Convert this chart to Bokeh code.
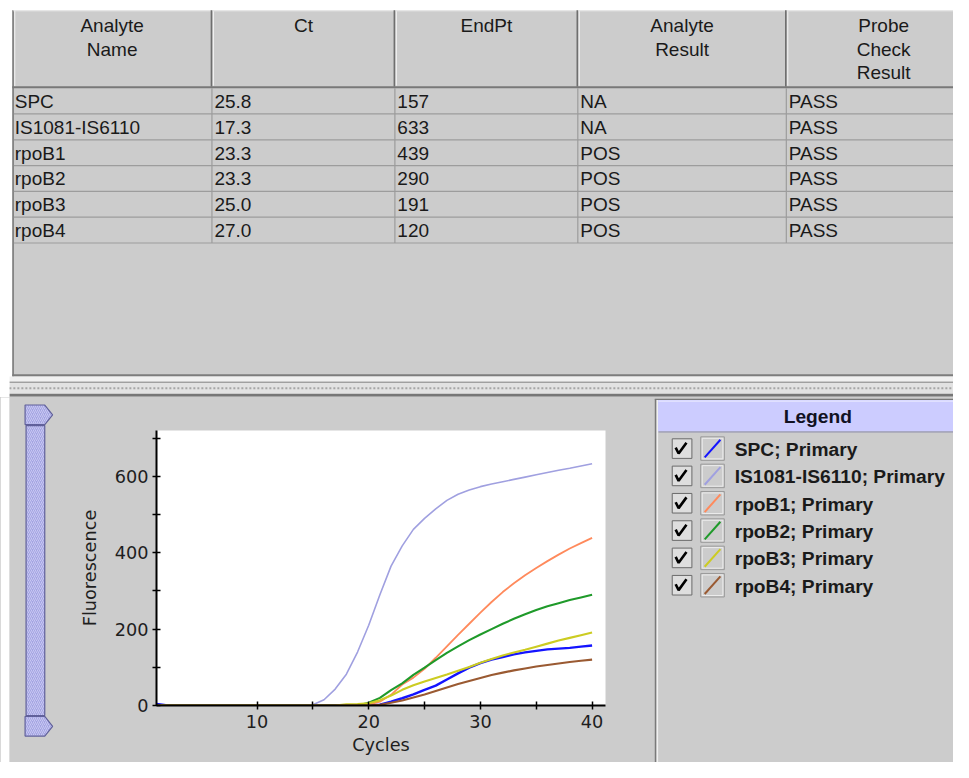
from bokeh.plotting import figure
from bokeh.models import Range1d, FixedTicker
from bokeh.layouts import column, row
from bokeh.core.properties import value
from bokeh.embed import file_html
from bokeh.resources import INLINE

# ---------------- data ----------------
analyte_names = ["SPC", "IS1081-IS6110", "rpoB1", "rpoB2", "rpoB3", "rpoB4"]
ct_values = [25.8, 17.3, 23.3, 23.3, 25.0, 27.0]
endpt_values = [157, 633, 439, 290, 191, 120]
analyte_results = ["NA", "NA", "POS", "POS", "POS", "POS"]
probe_check_results = ["PASS", "PASS", "PASS", "PASS", "PASS", "PASS"]
table_headers = [["Analyte", "Name"], ["Ct"], ["EndPt"], ["Analyte", "Result"], ["Probe", "Check", "Result"]]

cycles = [1, 2, 3, 4, 5, 6, 7, 8, 9, 10, 11, 12, 13, 14, 15, 16, 17, 18, 19, 20,
          21, 22, 23, 24, 25, 26, 27, 28, 29, 30, 31, 32, 33, 34, 35, 36, 37, 38, 39, 40]
spc = [4, 0, 0, 0, 0, 0, 0, 0, 0, 0, 0, 0, 0, 0, 0, 0, 0, 0, 0, 0,
       2, 10, 19, 29, 41, 52, 68, 84, 99, 111, 120, 127, 134, 139, 143, 147, 149, 151, 154, 157]
is1081_is6110 = [0, 0, 0, 0, 0, 0, 0, 0, 0, 0, 0, 0, 0, 0, 2, 15, 43, 82, 140, 210,
                 290, 365, 418, 461, 490, 515, 537, 553, 564, 573, 580, 586, 592, 598, 604, 610, 616, 621, 627, 633]
rpob1 = [0, 0, 0, 0, 0, 0, 0, 0, 0, 0, 0, 0, 0, 0, 0, 0, 0, 0, 0, 2,
         10, 28, 55, 73, 96, 125, 155, 185, 214, 243, 271, 297, 320, 341, 360, 378, 395, 411, 425, 439]
rpob2 = [0, 0, 0, 0, 0, 0, 0, 0, 0, 0, 0, 0, 0, 0, 0, 0, 0, 0, 0, 7,
         20, 40, 58, 80, 99, 119, 138, 155, 171, 186, 200, 214, 227, 239, 250, 260, 268, 276, 283, 290]
rpob3 = [0, 0, 0, 0, 0, 0, 0, 0, 0, 0, 0, 0, 0, 0, 0, 0, 0, 3, 4, 6,
         14, 26, 41, 53, 63, 72, 81, 91, 101, 112, 122, 131, 139, 146, 154, 162, 170, 177, 184, 191]
rpob4 = [0, 0, 0, 0, 0, 0, 0, 0, 0, 0, 0, 0, 0, 0, 0, 0, 0, 0, 0, 0,
         2, 7, 13, 21, 29, 38, 47, 56, 64, 72, 80, 86, 92, 97, 102, 106, 110, 114, 117, 120]
series_values = [spc, is1081_is6110, rpob1, rpob2, rpob3, rpob4]
series_colors = ["#1414ff", "#a0a0e0", "#ff8a5c", "#1f9a2a", "#cccc22", "#9a5a32"]
series_widths = [2.4, 1.6, 1.8, 2.1, 2.1, 2.1]
legend_suffix = "; Primary"

x_ticks = [10, 20, 30, 40]
x_minor_ticks = [15, 25, 35]
y_ticks = [0, 200, 400, 600]
y_minor_ticks = [100, 300, 500, 700]

# ---------------- styling ----------------
GRAY = "#cccccc"
TXT = "#1a1a1a"
FONT = "Liberation Sans"
CHART_FONT = "DejaVu Sans"
FS = "19px"
LFS = "19.2px"
CFS = "17.7px"
SX = 953 / 969
SY = 762 / 778


def panel_fig(px0, px1, py0, py1, bg):
    """Panel whose data coordinates are the screenshot's pixel coordinates."""
    f = figure(width=px1 - px0, height=py1 - py0,
               x_range=Range1d(px0 / SX, px1 / SX), y_range=Range1d(py1 / SY, py0 / SY),
               output_backend="svg", toolbar_location=None,
               x_axis_location=None, y_axis_location=None, min_border=0,
               background_fill_color=bg, border_fill_color=bg, outline_line_color=None,
               frame_align=False)
    f.xgrid.visible = False
    f.ygrid.visible = False
    return f


R = 969  # right edge of the screenshot
B = 778  # bottom edge of the screenshot

# ---------------- top: results table ----------------
top = panel_fig(0, 953, 0, 397, "white")
col_edges = [12, 215, 401, 587, 799, 997]
row_top0 = 89.5
row_h = 26.35

top.quad(left=[12], right=[R], top=[10], bottom=[384], fill_color=GRAY, line_color=None)
top.quad(left=[12], right=[13.6], top=[10], bottom=[384], fill_color="#7a7a7a", line_color=None)
top.segment(x0=[14.5], y0=[10], x1=[14.5], y1=[88], line_color="#f2f2f2", line_width=1)
top.segment(x0=[13], y0=[10.5], x1=[R], y1=[10.5], line_color="#ececec", line_width=1)
sep_x = col_edges[1:-1]
top.segment(x0=[e - 0.5 for e in sep_x], y0=[10] * 4, x1=[e - 0.5 for e in sep_x], y1=[88] * 4,
            line_color="#6e6e6e", line_width=1.6)
top.segment(x0=[e + 1.5 for e in sep_x], y0=[11] * 4, x1=[e + 1.5 for e in sep_x], y1=[87] * 4,
            line_color="#f4f4f4", line_width=1)
top.segment(x0=[12], y0=[88.5], x1=[R], y1=[88.5], line_color="#787878", line_width=2)
hx, hy, ht = [], [], []
for i, lines in enumerate(table_headers):
    cx = (col_edges[i] + col_edges[i + 1]) / 2
    for j, t in enumerate(lines):
        hx.append(cx)
        hy.append(26 + 24 * j)
        ht.append(t)
top.text(x=hx, y=hy, text=ht, text_font=value(FONT), text_font_size=FS,
         text_color=TXT, text_align="center", text_baseline="middle")
n_rows = len(analyte_names)
row_lines = [row_top0 + row_h * (i + 1) for i in range(n_rows)]
top.segment(x0=[13.6] * n_rows, y0=row_lines, x1=[R] * n_rows, y1=row_lines,
            line_color="#9c9c9c", line_width=1.2)
top.segment(x0=sep_x, y0=[89.5] * 4, x1=sep_x, y1=[row_lines[-1]] * 4,
            line_color="#9c9c9c", line_width=1.2)
columns_text = [analyte_names,
                [f"{v:.1f}" for v in ct_values],
                [str(v) for v in endpt_values],
                analyte_results,
                probe_check_results]
dx, dy, dt = [], [], []
for c, vals in enumerate(columns_text):
    for r, t in enumerate(vals):
        dx.append(col_edges[c] + 2.5)
        dy.append(row_top0 + row_h * r + row_h / 2 + 0.5)
        dt.append(t)
top.text(x=dx, y=dy, text=dt, text_font=value(FONT), text_font_size=FS,
         text_color=TXT, text_align="left", text_baseline="middle")
# table bottom border & split-pane divider
top.quad(left=[12], right=[R], top=[381.5], bottom=[384], fill_color="#7c7c7c", line_color=None)
top.quad(left=[9], right=[R], top=[384], bottom=[389], fill_color="#f0f0f0", line_color=None)
top.quad(left=[9], right=[R], top=[389], bottom=[390.5], fill_color="#a0a0a0", line_color=None)
top.quad(left=[9], right=[R], top=[390.5], bottom=[401.5], fill_color="#e2e2e2", line_color=None)
top.line(x=[9, R], y=[396, 396], line_color="#a6a6a6", line_width=2, line_dash="2 2")
top.quad(left=[9], right=[R], top=[401.5], bottom=[404.5], fill_color="#767676", line_color=None)
top.quad(left=[9], right=[R], top=[404.5], bottom=[406], fill_color=GRAY, line_color=None)
top.quad(left=[0], right=[9], top=[383], bottom=[406], fill_color="white", line_color=None)

# ---------------- bottom left: slider strip ----------------
slider = panel_fig(0, 59, 397, 762, GRAY)
slider.quad(left=[0], right=[9], top=[400], bottom=[B], fill_color="white", line_color=None)
slider_style = dict(fill_color="#a4a4e2", line_color="#60609a", line_width=1.2,
                    hatch_pattern="right_diagonal_line", hatch_color="#c8c8f2",
                    hatch_scale=4, hatch_weight=1)
slider.patches(xs=[[25, 45, 53, 45, 25], [25, 45, 53, 45, 25]],
               ys=[[413, 413, 423, 433, 433], [731, 731, 741, 751, 751]], **slider_style)
slider.quad(left=[26], right=[45], top=[434], bottom=[730], **slider_style)

# ---------------- bottom middle: amplification chart ----------------
p = figure(width=595, height=365, x_range=Range1d(1, 41.2), y_range=Range1d(0, 720),
           output_backend="svg", toolbar_location=None,
           min_border_left=97, min_border_right=49, min_border_top=33, min_border_bottom=57,
           background_fill_color="white", border_fill_color=GRAY, outline_line_color=None,
           frame_align=False)
p.xgrid.visible = False
p.ygrid.visible = False
for vals, col, lw in zip(series_values, series_colors, series_widths):
    p.line(cycles, vals, line_color=col, line_width=lw)

p.xaxis.ticker = FixedTicker(ticks=x_ticks, minor_ticks=x_minor_ticks)
p.yaxis.ticker = FixedTicker(ticks=y_ticks, minor_ticks=y_minor_ticks)
for ax in (p.xaxis, p.yaxis):
    ax.axis_line_color = "black"
    ax.axis_line_width = 2
    ax.major_tick_line_color = "black"
    ax.minor_tick_line_color = "black"
    ax.major_tick_line_width = 1.5
    ax.minor_tick_line_width = 1.5
    ax.major_tick_in = 4
    ax.major_tick_out = 4
    ax.minor_tick_in = 4
    ax.minor_tick_out = 4
    ax.major_label_text_font = CHART_FONT
    ax.major_label_text_font_size = CFS
    ax.major_label_text_color = "#1e1e1e"
    ax.axis_label_text_font = CHART_FONT
    ax.axis_label_text_font_size = CFS
    ax.axis_label_text_font_style = "normal"
    ax.axis_label_text_color = "#1e1e1e"
p.xaxis.axis_label = "Cycles"
p.yaxis.axis_label = "Fluorescence"
p.yaxis.major_label_standoff = 4
p.xaxis.major_label_standoff = 5
p.xaxis.axis_label_standoff = 4
p.yaxis.axis_label_standoff = 12

# ---------------- bottom right: legend panel ----------------
leg = panel_fig(654, 953, 397, 762, GRAY)
leg.quad(left=[665], right=[666.6], top=[407], bottom=[B], fill_color="#7a7a7a", line_color=None)
leg.quad(left=[665], right=[R], top=[406.5], bottom=[408], fill_color="#7a7a7a", line_color=None)
leg.quad(left=[667.5], right=[668.6], top=[408], bottom=[B], fill_color="#f0f0f0", line_color=None)
leg.quad(left=[668.6], right=[R], top=[408], bottom=[440], fill_color="#ccccff", line_color=None)
leg.segment(x0=[669], y0=[409], x1=[R], y1=[409], line_color="#eeeeff", line_width=1)
leg.segment(x0=[669], y0=[440.5], x1=[R], y1=[440.5], line_color="#8a8aa6", line_width=1)
leg.text(x=[831], y=[425], text=["Legend"], text_font=value(FONT), text_font_size=LFS,
         text_font_style="bold", text_color="#111122", text_align="center", text_baseline="middle")

row_c = [457.5 + 27.9 * i for i in range(len(analyte_names))]
leg.quad(left=[683] * 6, right=[703] * 6, top=[c - 10 for c in row_c], bottom=[c + 10 for c in row_c],
         fill_color="#dedede", line_color="#6a6a6a", line_width=1)
leg.multi_line(xs=[[686.5, 689.5, 697.5] for c in row_c],
               ys=[[c - 1, c + 5, c - 6] for c in row_c], line_color="black", line_width=2.6)
leg.quad(left=[712] * 6, right=[736] * 6, top=[c - 12 for c in row_c], bottom=[c + 12 for c in row_c],
         fill_color=GRAY, line_color="#9a9a9a", line_width=1)
leg.quad(left=[713.5] * 6, right=[734.5] * 6, top=[c - 10.5 for c in row_c], bottom=[c + 10.5 for c in row_c],
         fill_color=None, line_color="#ececec", line_width=1)
leg.segment(x0=[716] * 6, y0=[c + 9 for c in row_c], x1=[732] * 6, y1=[c - 9 for c in row_c],
            line_color=series_colors, line_width=2)
leg.text(x=[746.5] * 6, y=[c + 1 for c in row_c], text=[n + legend_suffix for n in analyte_names],
         text_font=value(FONT), text_font_size=LFS, text_font_style="bold",
         text_color=TXT, text_align="left", text_baseline="middle")

bottom = row(slider, p, leg, styles={"background-color": GRAY})
layout = column(top, bottom)
open("out.html", "w").write(file_html(layout, INLINE))
